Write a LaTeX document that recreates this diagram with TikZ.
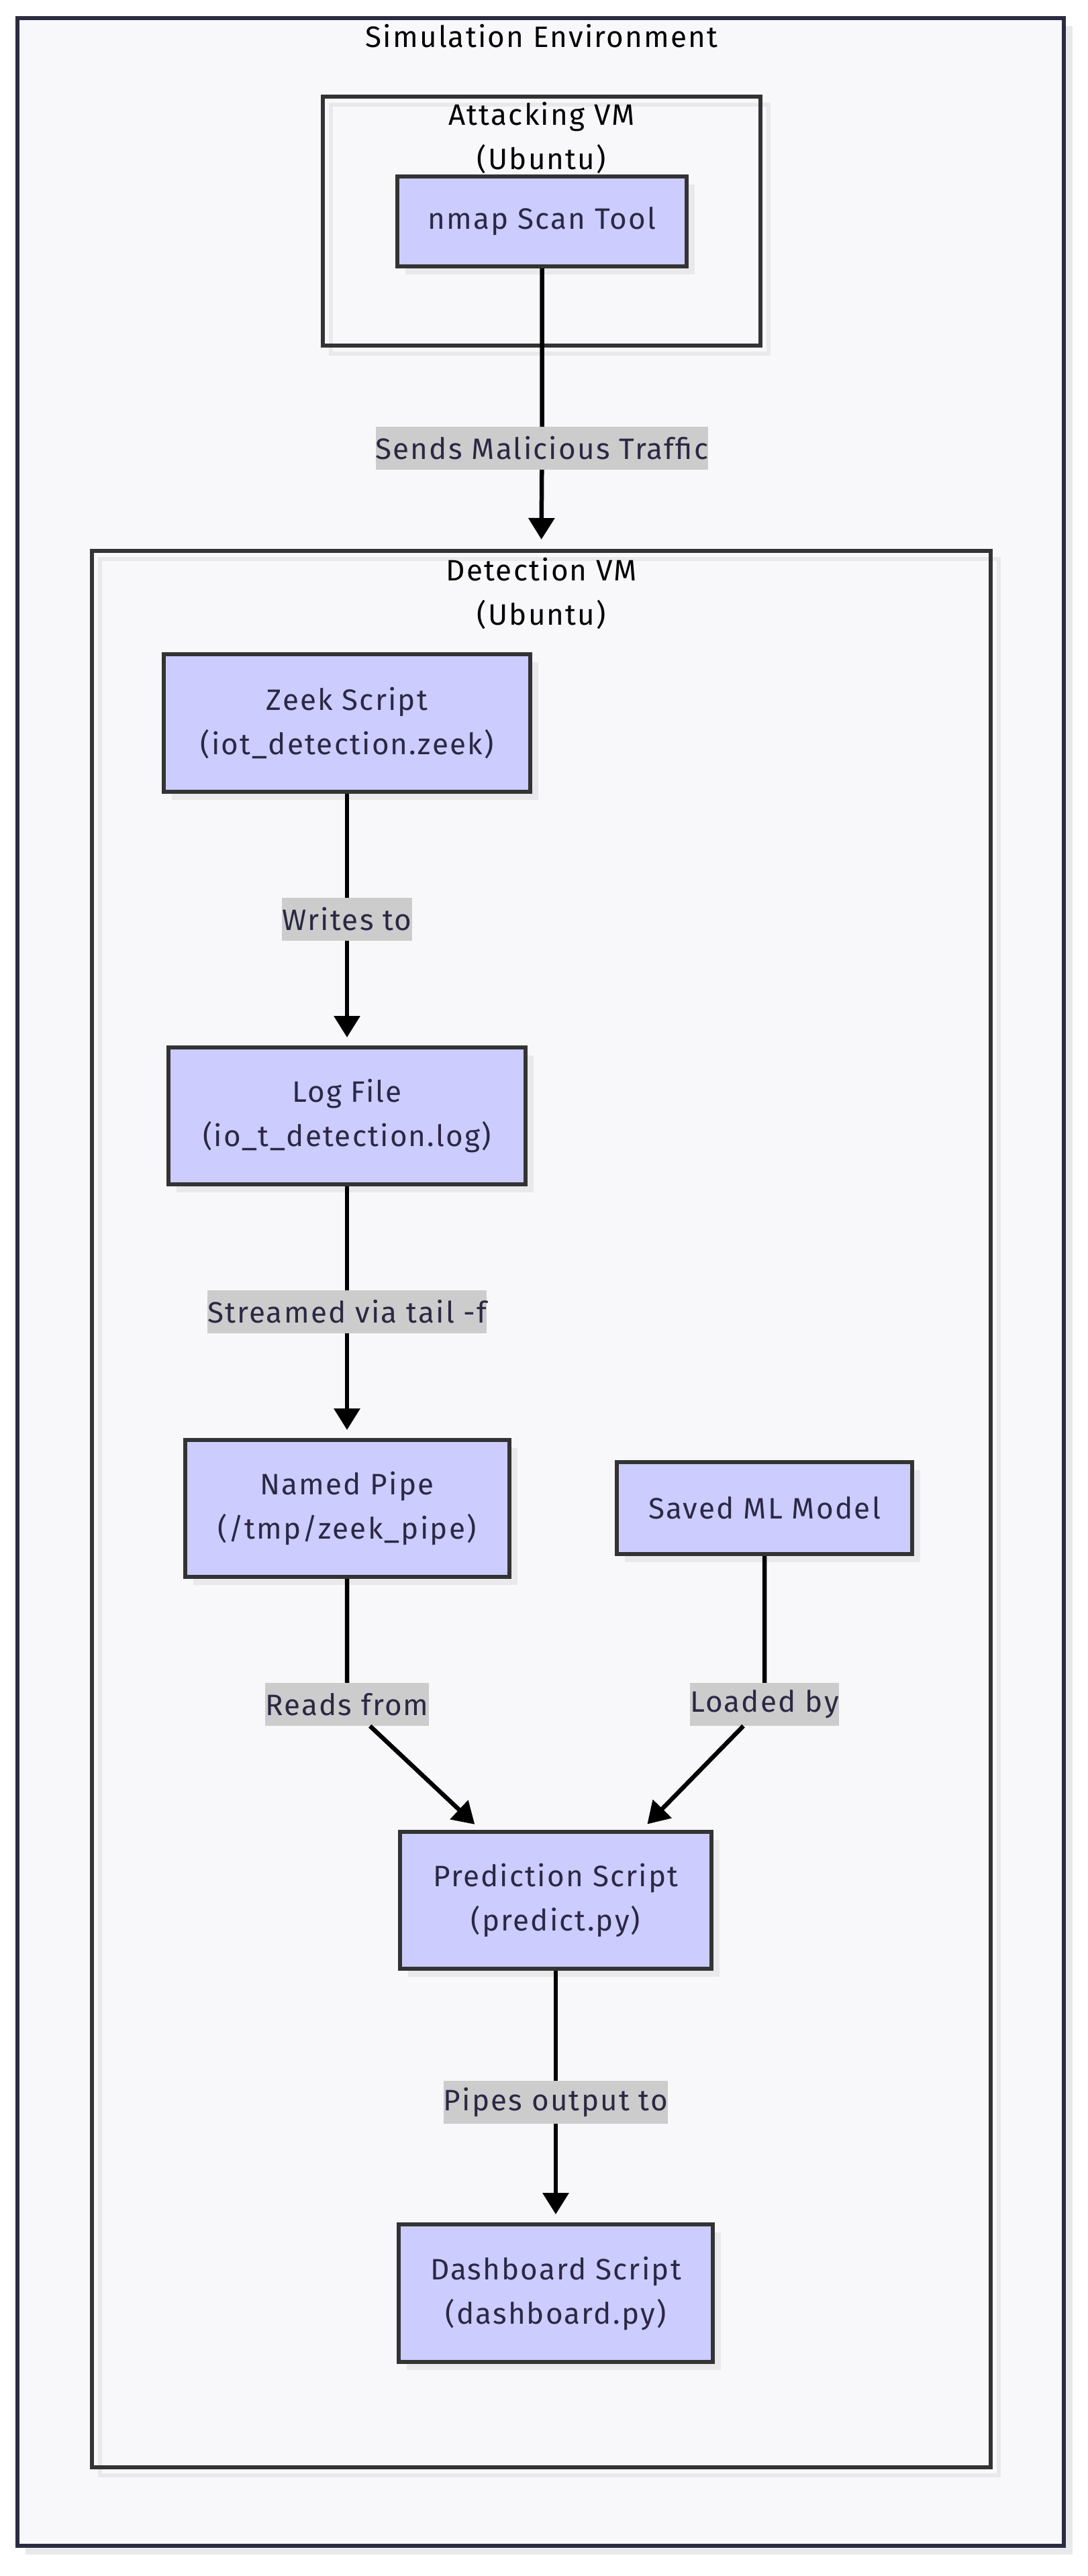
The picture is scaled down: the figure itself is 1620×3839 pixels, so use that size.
\documentclass[tikz,border=0pt]{standalone}
\usepackage{fontspec}
\setmainfont{Fira Sans}[LetterSpace=5]
\usetikzlibrary{arrows.meta,shadows}
\definecolor{framebg}{HTML}{F8F8FA}
\definecolor{framedk}{HTML}{2B2B42}
\definecolor{boxline}{HTML}{333333}
\definecolor{nodefill}{HTML}{CCCCFF}
\definecolor{shadowc}{HTML}{E9E9EC}
\definecolor{lblbg}{HTML}{CCCCCC}
\definecolor{txt}{HTML}{2A2843}
\begin{document}
\begin{tikzpicture}[x=1pt,y=-1pt,
  fnt/.style={font=\fontsize{44}{66}\selectfont},
  proc/.style={fnt, draw=boxline, line width=6pt, fill=nodefill, text=txt, align=center, inner sep=0pt,
    drop shadow={shadow xshift=12pt, shadow yshift=-12pt, fill=shadowc, opacity=1}},
  sgbox/.style={draw=boxline, line width=6pt, inner sep=0pt, outer sep=0pt},
  sgshadow/.style={draw=shadowc, line width=6pt},
  sgtitle/.style={fnt, text=black, align=center, inner sep=0pt},
  lbl/.style={fnt, fill=lblbg, text=txt, inner xsep=0pt, inner ysep=0pt, minimum height=64pt},
  flow/.style={draw=black, line width=6.5pt, -{Triangle[length=32pt,width=38pt]}, shorten >=12pt}
]
\useasboundingbox (0,0) rectangle (1620,3839);
% outer frame
\fill[shadowc] (38,39) rectangle (1598,3807);
\node[draw=framedk, fill=framebg, line width=6.5pt, inner sep=0pt, outer sep=0pt,
  minimum width=1559pt, minimum height=3767pt] (sim) at (805.5,1910.5) {};
\node[sgtitle] (simT) at (807,54) {Simulation Environment};
% subgraph boxes
\node[sgbox, minimum width=652pt, minimum height=371pt] (att) at (807,329.5) {};
\draw[sgshadow] ([shift={(12,12)}]att.north west) rectangle ([shift={(12,12)}]att.south east);
\node[sgbox, minimum width=652pt, minimum height=371pt] at (807,329.5) {};
\node[sgtitle] (attT) at (807,206) {Attacking VM\\(Ubuntu)};
\node[sgbox, minimum width=1339pt, minimum height=2856pt] (det) at (806.5,2249) {};
\draw[sgshadow] ([shift={(12,12)}]det.north west) rectangle ([shift={(12,12)}]det.south east);
\node[sgbox, minimum width=1339pt, minimum height=2856pt] at (806.5,2249) {};
\node[sgtitle] (detT) at (807,885) {Detection VM\\(Ubuntu)};
% nodes
\node[proc, minimum width=431pt, minimum height=134pt] (nmap) at (807.5,330) {nmap Scan Tool};
\node[proc, minimum width=546pt, minimum height=205pt] (zeek) at (517,1077.5) {Zeek Script\\(iot\_detection.zeek)};
\node[proc, minimum width=532pt, minimum height=204pt] (log) at (517,1663) {Log File\\(io\_t\_detection.log)};
\node[proc, minimum width=483pt, minimum height=204pt] (pipe) at (517,2248) {Named Pipe\\(/tmp/zeek\_pipe)};
\node[proc, minimum width=440pt, minimum height=137pt] (ml) at (1139,2247.5) {Saved ML Model};
\node[proc, minimum width=464pt, minimum height=204pt] (pred) at (828,2832) {Prediction Script\\(predict.py)};
\node[proc, minimum width=468pt, minimum height=205pt] (dash) at (828,3417.5) {Dashboard Script\\(dashboard.py)};
% labels
\node[lbl] (sends) at (807.5,668) {Sends Malicious Traffic};
\node[lbl] (writes) at (517,1370) {Writes to};
\node[lbl] (streamed) at (517,1955) {Streamed via tail -f};
\node[lbl] (reads) at (517,2540) {Reads from};
\node[lbl] (loaded) at (1139,2540) {Loaded by};
\node[lbl] (pipes) at (828,3133) {Pipes output to};
% edges
\draw[flow, shorten >=17pt] (nmap) -- (sends) -- (det.north);
\draw[flow] (zeek) -- (writes) -- (log);
\draw[flow] (log) -- (streamed) -- (pipe);
\draw[flow] (pipe) -- (reads) -- ([xshift=-112pt]pred.north);
\draw[flow] (ml) -- (loaded) -- ([xshift=128pt]pred.north);
\draw[flow] (pred) -- (pipes) -- (dash);
\end{tikzpicture}
\end{document}
